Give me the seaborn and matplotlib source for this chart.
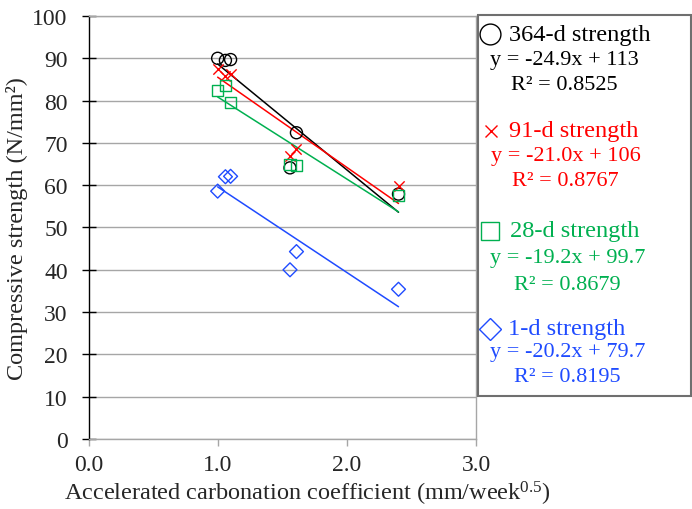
import numpy as np
import pandas as pd
import matplotlib
matplotlib.use("Agg")
import matplotlib.pyplot as plt
from matplotlib.lines import Line2D
from matplotlib.patches import Rectangle
import seaborn as sns

# ---------------- data ----------------
carbonation = [1.00, 1.06, 1.10, 1.56, 1.61, 2.40]
strength_364d = [90.0, 89.5, 89.7, 64.1, 72.4, 57.9]
strength_91d = [87.5, 85.9, 86.3, 67.0, 68.5, 59.8]
strength_28d = [82.3, 83.5, 79.5, 64.8, 64.6, 57.5]
strength_1d = [58.6, 62.0, 62.1, 40.0, 44.3, 35.4]

series_names = ["364-d strength", "91-d strength", "28-d strength", "1-d strength"]
equations = ["y = -24.9x + 113", "y = -21.0x + 106", "y = -19.2x + 99.7", "y = -20.2x + 79.7"]
r_squared = ["R\u00b2 = 0.8525", "R\u00b2 = 0.8767", "R\u00b2 = 0.8679", "R\u00b2 = 0.8195"]
x_ticks = [0.0, 1.0, 2.0, 3.0]
x_tick_labels = ["0.0", "1.0", "2.0", "3.0"]
y_ticks = [0, 10, 20, 30, 40, 50, 60, 70, 80, 90, 100]

df = pd.DataFrame({
    "x": carbonation * 4,
    "strength": strength_364d + strength_91d + strength_28d + strength_1d,
    "series": sum([[n] * len(carbonation) for n in series_names], []),
})

# ---------------- style ----------------
sns.set_theme(style="white")
plt.rcParams["font.family"] = ["Liberation Serif", "DejaVu Serif"]
plt.rcParams["mathtext.fontset"] = "custom"
plt.rcParams["mathtext.rm"] = "Liberation Serif"
plt.rcParams["mathtext.it"] = "Liberation Serif:italic"

colors = ["#000000", "#FF0000", "#00B050", "#1F4BFF"]
markers = ["o", "x", "s", "D"]
sizes = [75, 55, 64, 50]
grey = "#A6A6A6"

fig = plt.figure(figsize=(6.92, 5.10), dpi=100)
ax = fig.add_axes([88.5 / 692, 1 - 440 / 510, (476 - 88.5) / 692, (440 - 17) / 510])

for name, col, mk, sz in zip(series_names, colors, markers, sizes):
    sub = df[df["series"] == name]
    skw = dict(s=sz, linewidths=1.0, alpha=1.0, zorder=3)
    if mk != "x":
        skw["facecolors"] = "none"
    sns.regplot(data=sub, x="x", y="strength", ax=ax, ci=None, marker=mk,
                color=col, scatter_kws=skw, line_kws=dict(lw=1.1, zorder=2))

ax.set_xlim(0, 3)
ax.set_ylim(0, 100)
ax.set_xticks(x_ticks)
ax.set_xticklabels(x_tick_labels)
ax.set_yticks(y_ticks)
ax.yaxis.grid(True, color=grey, lw=1.0)
ax.xaxis.grid(False)

for side in ["top", "right", "bottom"]:
    ax.spines[side].set_color(grey)
    ax.spines[side].set_linewidth(1.0)
ax.spines["left"].set_color("black")
ax.spines["left"].set_linewidth(1.0)

ax.tick_params(axis="y", direction="inout", length=10, width=1, color="black",
               pad=10, labelsize=17, left=True)
ax.tick_params(axis="x", direction="out", length=5, width=1, color=grey,
               pad=6, labelsize=17, bottom=True)

ax.set_xlabel(r"Accelerated carbonation coefficient (mm/week$^{\mathrm{0.5}}$)", fontsize=17.5)
ax.set_ylabel("Compressive strength (N/mm\u00b2)", fontsize=17.5)
ax.xaxis.set_label_coords(0.566, -0.095)
ax.yaxis.set_label_coords(-0.156, 0.5)

# ---------------- legend box ----------------
W, H = 692.0, 510.0
fig.add_artist(Rectangle((477.5 / W, 1 - 396.5 / H), (691 - 477.5) / W, (396.5 - 15.5) / H,
                         transform=fig.transFigure, fill=False, edgecolor="#6F6F6F", lw=1.5))

entries = [
    # marker(x,y), label x, eq (x,y), r2 (x,y)
    ((490, 35), 509, (490, 60), (511, 85)),
    ((491, 132), 509, (491, 157), (512, 181)),
    ((490, 232), 510, (490, 259), (514, 285)),
    ((490, 330), 508, (490, 353), (514, 377)),
]
leg_ms = [15, 9, 13.5, 11.5]
for i, ((mx, my), lx, (ex, ey), (rx, ry)) in enumerate(entries):
    col = colors[i]
    if markers[i] == "x":
        m = Line2D([mx / W], [1 - my / H], transform=fig.transFigure, marker="x",
                   ms=leg_ms[i], mew=1.0, color=col, linestyle="none")
    else:
        m = Line2D([mx / W], [1 - my / H], transform=fig.transFigure, marker=markers[i],
                   ms=leg_ms[i], mew=1.0, mec=col, mfc="none", linestyle="none")
    fig.add_artist(m)
    fig.text(lx / W, 1 - my / H, series_names[i], color=col, fontsize=17.6,
             ha="left", va="center")
    fig.text(ex / W, 1 - ey / H, equations[i], color=col, fontsize=16,
             ha="left", va="center")
    fig.text(rx / W, 1 - ry / H, r_squared[i], color=col, fontsize=16,
             ha="left", va="center")

fig.savefig("out.png", dpi=100)
